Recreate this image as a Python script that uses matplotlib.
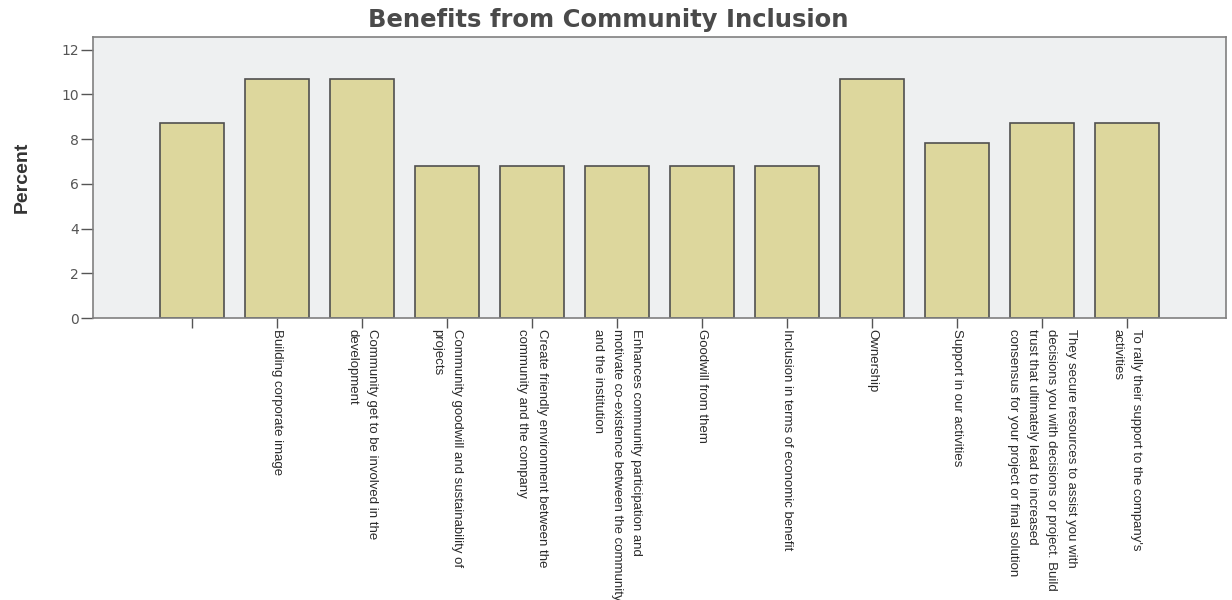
import matplotlib.pyplot as plt
import numpy as np

# responses out of n = 103
categories = [
    "",
    "Building corporate image",
    "Community get to be involved in the\ndevelopment",
    "Community goodwill and sustainability of\nprojects",
    "Create friendly environment between the\ncommunity and the company",
    "Enhances community participation and\nmotivate co-existence between the community\nand the institution",
    "Goodwill from them",
    "Inclusion in terms of economic benefit",
    "Ownership",
    "Support in our activities",
    "They secure resources to assist you with\ndecisions you with decisions or project. Build\ntrust that ultimately lead to increased\nconsensus for your project or final solution",
    "To rally their support to the company's\nactivities",
]
percent = [8.7, 10.7, 10.7, 6.8, 6.8, 6.8, 6.8, 6.8, 10.7, 7.8, 8.7, 8.7]
yticks = [0, 2, 4, 6, 8, 10, 12]

fig = plt.figure(figsize=(12.32, 6), dpi=100)
ax = fig.add_axes([0.0755, 0.47, 0.9195, 0.468])
ax.set_facecolor('#eef0f1')

x = np.arange(len(categories))
ax.bar(x, percent, width=0.76, color='#ddd79d', edgecolor='#505050', linewidth=1.2, zorder=2)

ax.set_xlim(-1.165, len(categories) - 1 + 1.165)
ax.set_ylim(0, 12.55)
ax.set_yticks(yticks)
ax.set_yticklabels([str(v) for v in yticks], fontsize=10, color='#555555',
                   family='DejaVu Sans')
ax.set_xticks(x)
ax.set_xticklabels(categories, rotation=270, fontsize=9.5, color='#2a2a2a',
                   family='Liberation Sans', ha='center', va='top',
                   multialignment='left', linespacing=1.8)
ax.tick_params(axis='y', colors='#555555', length=9, width=1, pad=1)
ax.tick_params(axis='x', colors='#555555', length=7, width=1, pad=1,
               labelcolor='#2a2a2a')

for s in ax.spines.values():
    s.set_color('#808080')
    s.set_linewidth(1.2)

ax.set_ylabel("Percent", fontsize=14, fontweight='bold', family='Liberation Sans',
              color='#333333', labelpad=22)
fig.text(608 / 1232, 1 - 20 / 600, "Benefits from Community Inclusion",
         fontsize=17.5, fontweight='bold', family='DejaVu Sans', color='#4a4a4a',
         ha='center', va='center')

plt.savefig('out.png', dpi=100)
